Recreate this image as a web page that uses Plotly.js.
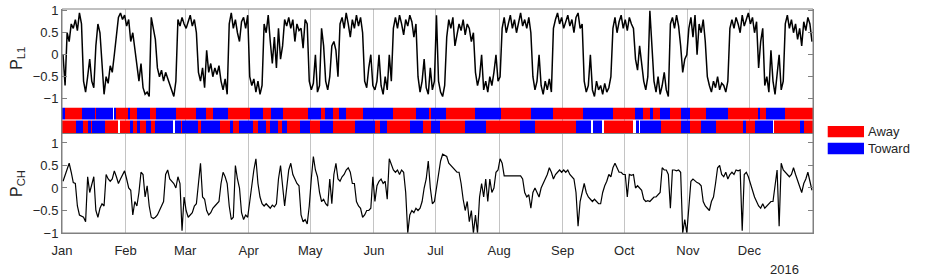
<!DOCTYPE html>
<html><head><meta charset="utf-8">
<script src="https://cdn.plot.ly/plotly-3.0.1.min.js"></script>
<style>html,body{margin:0;padding:0;background:#fff;}#chart{width:926px;height:278px;}</style>
</head><body><div id="chart"></div>
<script>
// ---- data ----
const yearStart = '2016-01-01';
const monthTickDates = ['2016-01-01','2016-02-01','2016-03-01','2016-04-01','2016-05-01','2016-06-01','2016-07-01','2016-08-01','2016-09-01','2016-10-01','2016-11-01','2016-12-01'];
const monthTickLabels = ['Jan','Feb','Mar','Apr','May','Jun','Jul','Aug','Sep','Oct','Nov','Dec'];
const yearLabel = '2016';
const yTicks = [-1,-0.5,0,0.5,1];
const legendLabels = ['Away','Toward'];

// daily P_L1 (Jan..Dec 2016)
const pL1 = [
 0.0,-0.7,0.5,0.3,0.7,0.6,0.8,0.55,0.95,0.7,-0.6,-0.85,-0.5,-0.1,-0.6,-0.75,0.2,0.7,0.5,-0.3,-0.9,-0.5,-0.65,-0.25,-0.4,0.0,0.5,0.85,0.95,0.8,0.9,
 0.65,0.8,0.3,0.5,0.1,-0.3,-0.6,-0.2,-0.75,-0.9,-0.85,-0.95,0.85,0.6,0.35,-0.3,-0.5,-0.35,-0.6,-0.4,-0.55,-0.7,-0.85,-0.95,-0.6,0.8,0.65,0.85,0.7,
 0.6,0.75,0.9,0.65,0.8,0.5,-0.4,-0.6,-0.3,-0.75,0.1,-0.4,-0.2,-0.5,-0.3,-0.45,-0.25,-0.6,-0.8,-0.55,-0.9,0.7,0.95,0.6,0.8,0.5,0.3,0.75,0.85,0.6,0.9,
 -0.5,-0.7,-0.55,-0.85,-0.6,-0.9,-0.7,0.7,0.5,0.9,0.3,-0.2,0.4,-0.3,0.6,-0.1,0.2,0.8,0.65,0.85,0.6,0.8,0.3,0.7,0.55,0.6,0.15,0.8,0.7,-0.6,
 -0.8,-0.65,0.0,-0.85,-0.7,0.6,0.2,-0.6,-0.8,-0.5,0.2,0.3,0.1,-0.5,0.7,0.85,0.6,0.95,0.7,0.4,0.8,0.6,0.9,0.65,0.85,0.5,-0.6,-0.75,-0.3,0.0,-0.7,
 -0.8,-0.6,0.0,-0.7,-0.9,-0.5,-0.8,0.0,-0.6,0.6,0.85,0.6,0.9,0.7,0.45,0.8,0.65,0.9,0.75,0.4,0.7,-0.5,-0.85,-0.6,-0.1,-0.75,-0.9,-0.3,-0.8,-0.6,
 0.9,-0.6,-0.85,-0.95,-0.7,0.4,0.8,0.6,0.85,0.2,0.5,0.7,0.55,0.8,0.45,0.7,0.6,0.3,0.5,-0.4,-0.7,-0.5,0.0,-0.8,-0.6,-0.85,-0.5,-0.7,-0.4,0.0,-0.6,
 -0.5,0.6,0.85,0.5,0.7,0.9,0.6,0.8,0.5,0.7,0.95,0.65,0.8,0.6,0.85,0.5,-0.5,-0.8,-0.6,0.0,-0.7,-0.9,-0.6,-0.8,-0.55,-0.85,0.6,0.8,0.95,0.7,0.85,
 0.6,0.75,0.9,0.65,0.8,0.5,0.85,0.95,0.6,0.7,-0.6,-0.85,-0.7,0.0,-0.8,-0.95,-0.6,-0.8,-0.7,-0.9,-0.65,-0.85,-0.75,-0.5,0.6,0.85,0.5,0.75,0.9,0.6,
 0.8,0.55,0.85,0.7,0.6,-0.1,-0.35,0.2,-0.2,-0.6,-0.8,-0.5,1.0,0.1,-0.6,-0.85,-0.5,-0.9,-0.7,-0.4,-0.8,-0.95,0.7,0.85,0.6,0.9,0.65,0.2,-0.4,-0.1,0.0,
 0.6,0.85,0.4,0.9,0.0,0.7,0.5,0.8,0.3,-0.5,-0.7,-0.85,-0.6,-0.75,-0.5,-0.8,-0.65,-0.7,-0.85,-0.6,0.6,0.8,0.6,0.85,0.7,0.5,0.9,0.65,0.8,0.95,
 0.7,0.85,0.5,0.75,-0.3,0.3,0.6,-0.7,-0.5,-0.85,0.1,-0.6,-0.9,-0.4,0.0,-0.8,-0.6,0.7,0.9,0.6,0.8,0.5,0.7,0.35,0.6,0.2,0.75,0.55,0.85,0.7,0.3
];

// daily P_CH (Jan..Dec 2016)
const pCH = [
 0.15,0.3,0.45,0.55,0.35,0.12,0.1,-0.4,-0.6,-0.62,-0.65,-0.75,0.25,-0.1,0.1,0.25,-0.5,-0.65,-0.45,-0.35,-0.4,0.3,0.2,0.15,0.2,0.38,0.25,0.1,0.2,0.3,0.38,
 0.2,0.0,-0.05,-0.6,-0.3,-0.4,-0.1,0.35,0.3,-0.2,0.05,-0.4,-0.65,-0.68,-0.65,-0.6,-0.5,-0.4,-0.3,0.3,0.4,0.2,0.15,0.1,0.0,0.25,0.1,-0.95,-0.2,
 -0.5,-0.65,-0.6,-0.55,-0.4,-0.35,0.1,0.55,-0.2,-0.25,-0.5,-0.6,-0.55,-0.45,-0.4,-0.35,-0.3,0.1,0.35,0.25,0.1,-0.4,-0.7,-0.65,0.5,0.2,0.0,-0.55,-0.7,-0.6,-0.65,
 -0.3,0.1,0.4,0.65,0.1,-0.2,-0.35,-0.4,-0.35,-0.4,-0.45,-0.38,-0.42,-0.35,0.2,0.5,0.1,-0.4,0.0,0.4,0.55,0.3,0.2,0.1,0.05,-0.6,-0.75,-0.7,-0.8,-0.4,
 0.2,0.7,0.4,0.25,-0.1,-0.3,-0.25,-0.35,-0.4,0.2,-0.35,0.3,0.55,0.2,0.15,0.25,0.3,0.4,0.45,0.35,0.1,0.1,-0.3,-0.4,-0.45,-0.65,-0.6,-0.5,-0.5,-0.45,0.25,
 -0.3,0.05,0.15,0.2,0.1,0.15,-0.25,0.65,0.5,0.4,0.35,0.4,0.3,0.4,0.35,-0.1,-1.0,-0.6,-0.5,-0.55,-0.45,-0.5,-0.45,-0.3,0.0,0.2,0.6,0.0,-0.35,-0.3,
 0.0,0.3,0.6,0.75,0.72,0.7,0.55,0.5,0.45,0.4,0.35,0.35,0.1,-0.25,-0.5,-0.3,-0.75,-0.5,-1.0,-0.6,-1.0,-0.2,0.1,-0.2,0.2,-0.3,0.2,-0.1,0.0,0.35,0.4,
 0.65,0.55,0.27,0.27,0.27,0.27,0.27,0.27,0.27,0.27,0.27,0.2,-0.1,-0.2,-0.15,-0.45,-0.1,0.0,-0.1,-0.2,0.0,0.1,0.2,0.3,0.45,0.35,0.2,0.3,0.35,0.4,0.35,
 0.4,0.35,0.4,0.3,0.25,0.2,-0.1,-0.85,-0.3,-0.1,0.1,-0.1,-0.2,-0.25,-0.3,-0.25,-0.3,-0.35,-0.35,-0.1,0.05,0.15,0.3,0.25,0.45,0.55,0.45,0.35,0.35,0.3,
 0.3,-0.2,0.3,0.28,0.3,0.0,0.05,0.0,-0.05,-0.25,-0.3,-0.28,-0.3,-0.25,-0.2,-0.2,-0.15,-0.1,0.45,0.4,0.4,0.3,-0.45,0.4,0.4,0.38,0.4,0.35,-1.0,-0.7,-1.0,
 -0.4,0.15,0.2,0.15,0.12,0.1,0.05,-0.3,-0.4,-0.45,-0.5,-0.3,-0.2,0.1,0.45,0.5,0.3,0.25,0.35,0.2,0.3,0.35,0.3,0.4,0.38,0.4,-0.95,0.3,0.35,0.25,
 0.1,-0.1,-0.2,-0.3,-0.4,-0.45,-0.35,-0.45,-0.4,-0.35,-0.3,-0.3,0.0,0.4,-0.85,0.55,0.4,0.35,0.3,0.25,0.3,0.45,0.3,0.15,0.05,-0.1,0.1,0.2,0.35,0.15,-0.05
];

// sector band: start day-of-year of each run and its state (A = Away, T = Toward, G = no data)
const topRowStartDay = [0,1.3,9.9,15.9,16.7,24.9,25.5,26.2,32.2,33.3,36.5,42.7,46,55.7,65.5,70.4,73.6,80.9,91.5,98,102,107.7,119.9,126.4,128,132.1,135,138.6,146.7,161.3,172.7,179,179.7,187.3,201.1,214.1,228.7,239.3,253.9,268.5,279.1,283.2,286.4,288,291.3,296.2,301.8,305.9,314,324.6,339.2,340,343.3,352.2];
const topRowState    = ['T','A','T','A','T','G','T','A','T','A','T','A','T','A','T','A','T','A','T','A','T','A','T','A','T','A','T','A','T','A','T','A','T','A','T','A','T','A','T','A','T','A','T','A','T','A','T','A','T','A','T','A','T','A'];
const bottomRowStartDay = [0,7,10.3,12.7,14.1,14.6,20.8,27.3,28.1,33,34.6,36.6,37.9,41.1,43.5,45.2,54.1,55.2,58.2,58.7,66.3,67.9,76.9,81.7,83.3,86.3,93.1,95.5,99.6,101.2,105.3,107.4,109.7,115.8,121,125.6,132.1,142.6,152.4,154.8,158.4,169.4,175.9,180,184.1,196.2,206.8,223.1,230.4,250.7,258,258.6,263.3,264,278.3,279.5,281.2,281.7,292.1,301.8,305.9,311.6,318.9,331.9,333.5,337.6,346.5,347,359.5,361.5];
const bottomRowState    = ['A','T','A','T','A','T','A','G','A','T','A','T','A','T','A','T','G','T','A','T','A','T','A','T','A','T','A','T','A','T','A','T','A','T','A','T','A','T','A','T','A','T','A','T','A','T','A','T','A','T','G','T','G','A','G','T','G','T','A','T','A','T','A','T','A','T','G','A','T','A'];

// ---- build ----
const DAY = 86400000;
const t0 = Date.parse(yearStart + 'T00:00:00Z');
function dayToDate(d){ const s = new Date(t0 + Math.round(d*DAY)).toISOString(); return s.slice(0,10)+' '+s.slice(11,19); }
const seriesX = pL1.map((_, i) => dayToDate(i + 0.5));
const seriesXch = pCH.map((_, i) => dayToDate(i + 0.5));

const yearDays = 366;
const edges = Array.from(new Set([...topRowStartDay, ...bottomRowStartDay, yearDays])).sort((a,b)=>a-b);
function stateAt(starts, states, t){ let s = states[0]; for (let k=0;k<starts.length;k++){ if (starts[k] <= t) s = states[k]; else break; } return s; }
const code = {A:0, T:1, G:null};
const zTop = [], zBot = [];
for (let i=0;i<edges.length-1;i++){
  const mid = (edges[i]+edges[i+1])/2;
  zTop.push(code[stateAt(topRowStartDay, topRowState, mid)]);
  zBot.push(code[stateAt(bottomRowStartDay, bottomRowState, mid)]);
}

const FONT = 'Liberation Sans, Arial, Helvetica, sans-serif';
const TXT = '#262626';
const AX = '#808080';

const traces = [
  {type:'scatter', mode:'lines', x: seriesX, y: pL1, xaxis:'x', yaxis:'y', line:{color:'#000', width:1.5}, hoverinfo:'skip', showlegend:false},
  {type:'heatmap', x: edges.map(dayToDate), y:[0,1], z:[zBot, zTop], xaxis:'x', yaxis:'y2', zmin:0, zmax:1,
   colorscale:[[0,'#FF0000'],[1,'#0000FF']], showscale:false, ygap:1, hoverinfo:'skip'},
  {type:'scatter', mode:'lines', x: seriesXch, y: pCH, xaxis:'x', yaxis:'y3', line:{color:'#000', width:1.2}, hoverinfo:'skip', showlegend:false}
];

const yCommon = {
  tickvals: yTicks, ticks:'inside', ticklen:5, tickcolor:AX, showline:true, linecolor:AX, mirror:'ticks',
  showgrid:false, zeroline:false, tickfont:{family:FONT, size:13, color:TXT}, anchor:'x'
};

const layout = {
  width:926, height:278, margin:{l:62, r:113, t:9, b:45},
  paper_bgcolor:'#fff', plot_bgcolor:'#fff', showlegend:false,
  font:{family:FONT, size:13, color:TXT},
  xaxis:{type:'date', range:[dayToDate(0), dayToDate(yearDays)], tickvals: monthTickDates, ticktext: monthTickLabels,
    showgrid:true, gridcolor:'#c4c4c4', gridwidth:1, ticks:'', ticklabelstandoff:5, showline:true, linecolor:AX, mirror:true,
    zeroline:false, anchor:'y3', tickfont:{family:FONT, size:13, color:TXT}},
  yaxis: Object.assign({}, yCommon, {domain:[0.5603,1], range:[-1.2,1.04],
    title:{text:'P<sub>L1</sub>', font:{family:FONT, size:16, color:TXT}, standoff:6}}),
  yaxis2:{domain:[0.442,0.5603], range:[-0.5,1.5], showticklabels:false, ticks:'', showgrid:false, zeroline:false,
    showline:true, linecolor:AX, mirror:true, anchor:'x'},
  yaxis3: Object.assign({}, yCommon, {domain:[0,0.442], range:[-1,1.2],
    title:{text:'P<sub>CH</sub>', font:{family:FONT, size:16, color:TXT}, standoff:6}}),
  shapes:[
    {type:'rect', xref:'paper', yref:'paper', x0:0, x1:1, y0:0, y1:1, line:{color:AX, width:1}, fillcolor:'rgba(0,0,0,0)', layer:'above'},
    {type:'rect', xref:'paper', yref:'paper', x0:1.0196, x1:1.0679, y0:0.4272, y1:0.4777, line:{width:0}, fillcolor:'#FF0000'},
    {type:'rect', xref:'paper', yref:'paper', x0:1.0196, x1:1.0679, y0:0.3513, y1:0.4031, line:{width:0}, fillcolor:'#0000FF'}
  ],
  annotations:[
    {xref:'paper', yref:'paper', x:1.0712, y:0.4522, xanchor:'left', yanchor:'middle', text:legendLabels[0], showarrow:false, font:{family:FONT, size:13, color:TXT}},
    {xref:'paper', yref:'paper', x:1.0712, y:0.3772, xanchor:'left', yanchor:'middle', text:legendLabels[1], showarrow:false, font:{family:FONT, size:13, color:TXT}},
    {xref:'paper', yref:'paper', x:0.9627, y:-0.165, xanchor:'center', yanchor:'middle', text:yearLabel, showarrow:false, font:{family:FONT, size:13, color:TXT}}
  ]
};

Plotly.newPlot('chart', traces, layout, {displayModeBar:false, staticPlot:true});
</script>
</body></html>
